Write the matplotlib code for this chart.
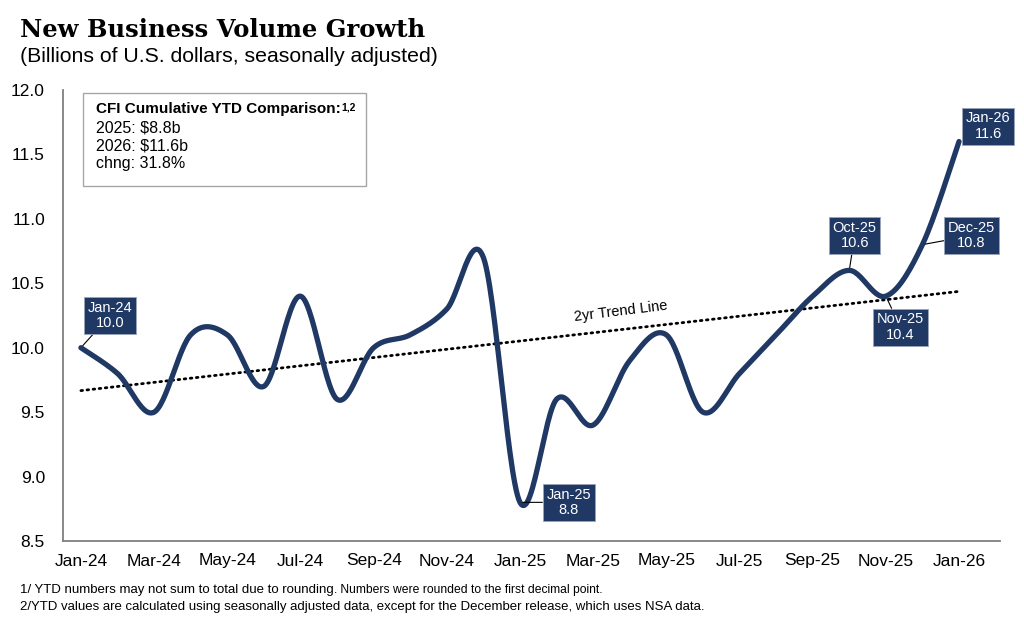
import numpy as np
import pandas as pd
import matplotlib
matplotlib.use('Agg')
import matplotlib.pyplot as plt
from matplotlib.patches import Rectangle

# monthly volume, billions USD (seasonally adjusted)
months = [d.strftime('%b-%y') for d in pd.date_range('2024-01-01', periods=25, freq='MS')]
volume = [10.0, 9.8, 9.5, 10.1, 10.1, 9.7, 10.4, 9.6, 10.0, 10.1, 10.3, 10.7,
          8.8, 9.6, 9.4, 9.9, 10.1, 9.5, 9.8, 10.1, 10.4, 10.6, 10.4, 10.8, 11.6]
labelled = ['Jan-24', 'Jan-25', 'Oct-25', 'Nov-25', 'Dec-25', 'Jan-26']
ytd_lines = ['2025: $8.8b', '2026: $11.6b', 'chng: 31.8%']

NAVY = '#1f3864'
plt.rcParams['font.family'] = ['Liberation Sans', 'DejaVu Sans']


def smooth(x, y, n=30):
    # excel style smoothed line (catmull-rom bezier)
    P = np.column_stack([x, y]).astype(float)
    out = []
    last = len(P) - 1
    for i in range(last):
        p_prev = P[max(i - 1, 0)]
        p_next2 = P[min(i + 2, last)]
        c1 = P[i] + (P[i + 1] - p_prev) / 6
        c2 = P[i + 1] - (p_next2 - P[i]) / 6
        t = np.linspace(0, 1, n)[:, None]
        seg = ((1 - t) ** 3 * P[i] + 3 * (1 - t) ** 2 * t * c1
               + 3 * (1 - t) * t ** 2 * c2 + t ** 3 * P[i + 1])
        out.append(seg if i == 0 else seg[1:])
    out = np.vstack(out)
    return out[:, 0], out[:, 1]


x = np.arange(len(volume))
fig = plt.figure(figsize=(10.24, 6.26), dpi=100)
ax = fig.add_axes([63 / 1024, 1 - 541 / 626, 937 / 1024, 451 / 626])

# trend line
slope, inter = np.polyfit(x, volume, 1)
ax.plot(x, inter + slope * x, color='black', lw=2, ls=(0, (0.6, 1.6)),
        dash_capstyle='round', zorder=2)
ax.text(14.76, 10.28, '2yr Trend Line', fontsize=10.5, rotation=7,
        ha='center', va='center')

sx, sy = smooth(x, volume)
ax.plot(sx, sy, color=NAVY, lw=3.8, solid_capstyle='round', zorder=3)

# data labels
box_pos = {'Jan-24': (0.79, 10.25), 'Jan-25': (13.33, 8.80), 'Oct-25': (21.15, 10.87),
           'Nov-25': (22.40, 10.16), 'Dec-25': (24.34, 10.87), 'Jan-26': (24.80, 11.72)}
for m in labelled:
    i = months.index(m)
    arrow = None if m == 'Jan-26' else dict(arrowstyle='-', color='black', lw=0.8,
                                            shrinkA=0, shrinkB=2)
    ax.annotate(f'{m}\n{volume[i]:.1f}', xy=(i, volume[i]), xytext=box_pos[m],
                ha='center', va='center', color='white', fontsize=10.5,
                linespacing=1.15, annotation_clip=False,
                bbox=dict(boxstyle='square,pad=0.25', fc=NAVY, ec='#9aa5b8', lw=0.6),
                arrowprops=arrow, zorder=5)

ax.set_xlim(-0.49, 25.12)
ax.set_ylim(8.5, 12.0)
ax.set_xticks(x[::2])
ax.set_xticklabels(months[::2])
ax.set_yticks(np.arange(8.5, 12.01, 0.5))
ax.set_yticklabels([f'{v:.1f}' for v in np.arange(8.5, 12.01, 0.5)])
ax.tick_params(axis='both', length=0, labelsize=12.5)
ax.tick_params(axis='y', pad=13)
ax.tick_params(axis='x', pad=9)
for s in ['top', 'right']:
    ax.spines[s].set_visible(False)
for s in ['left', 'bottom']:
    ax.spines[s].set_color('#7f7f7f')
    ax.spines[s].set_linewidth(1.3)

# ytd comparison box
ax.add_patch(Rectangle((0.0213, 0.787), 0.302, 0.206, transform=ax.transAxes,
                       fill=False, ec='#a6a6a6', lw=1, zorder=4))
head = ax.text(0.0352, 0.958, 'CFI Cumulative YTD Comparison:', transform=ax.transAxes,
               fontsize=11, fontweight='bold', va='center')
ax.annotate('1,2', xy=(1, 1), xycoords=head, xytext=(0.5, -0.5), textcoords='offset points',
            fontsize=7.5, fontweight='bold', va='top', ha='left')
for k, line in enumerate(ytd_lines):
    ax.text(0.0352, 0.916 - 0.04 * k, line, transform=ax.transAxes,
            fontsize=11.5, va='center')

# titles
fig.text(20 / 1024, 1 - 30 / 626, 'New Business Volume Growth', family='DejaVu Serif',
         fontweight='bold', fontsize=17.5, va='center')
fig.text(20 / 1024, 1 - 56 / 626, '(Billions of U.S. dollars, seasonally adjusted)',
         fontsize=15.3, va='center')

# footnotes
f1 = fig.text(20 / 1024, 1 - 593 / 626,
              '1/ YTD numbers may not sum to total due to rounding.', fontsize=9.55,
              va='baseline')
ax.annotate(' Numbers were rounded to the first decimal point.', xy=(1, 0), xycoords=f1,
            fontsize=8.75, va='bottom', ha='left', annotation_clip=False)
fig.text(20 / 1024, 1 - 610 / 626,
         '2/YTD values are calculated using seasonally adjusted data, except for the '
         'December release, which uses NSA data.', fontsize=9.5, va='baseline')

fig.savefig('out.png', dpi=100)
